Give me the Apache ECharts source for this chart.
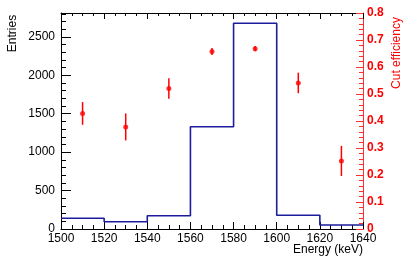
<!DOCTYPE html>
<html><head><meta charset="utf-8">
<script src="https://cdn.jsdelivr.net/npm/echarts@6/dist/echarts.min.js"></script>
<style>html,body{margin:0;padding:0;background:#fff}#c{width:407px;height:261px}</style>
</head><body><div id="c"></div>
<script>
const binEdges = [1500, 1520, 1540, 1560, 1580, 1600, 1620, 1640];
const counts = [140, 95, 173, 1330, 2677, 178, 52];
const effX = [1510, 1530, 1550, 1570, 1590, 1610, 1630];
const effVal = [0.428, 0.378, 0.52, 0.657, 0.668, 0.541, 0.252];
const effErr = [0.042, 0.05, 0.038, 0.013, 0.01, 0.038, 0.056];
const xTitle = 'Energy (keV)';
const yTitle = 'Entries';
const y2Title = 'Cut efficiency';

const FONT = 'Liberation Sans, Arial, sans-serif';
const histData = counts.map((v, i) => [binEdges[i], v]);
histData.push([binEdges[binEdges.length - 1], counts[counts.length - 1]]);
const effData = effX.map((x, i) => [x, effVal[i]]);
const errData = effX.map((x, i) => [x, effVal[i] - effErr[i], effVal[i] + effErr[i]]);

const chart = echarts.init(document.getElementById('c'), null, {renderer: 'canvas'});
const blk = {color: '#000', width: 1};
const plain = v => String(Math.round(v));
chart.setOption({
  animation: false,
  backgroundColor: '#fff',
  grid: {left: 61, right: 44, top: 13, bottom: 32, containLabel: false},
  xAxis: [
    {type: 'value', position: 'bottom', min: 1500, max: 1640, interval: 20,
     axisLine: {show: true, onZero: false, lineStyle: blk},
     axisTick: {show: true, inside: true, length: 7, lineStyle: blk},
     minorTick: {show: true, splitNumber: 4, length: 4, lineStyle: blk},
     splitLine: {show: false}, minorSplitLine: {show: false},
     axisLabel: {margin: 4, fontSize: 12, color: '#000', fontFamily: FONT, formatter: plain,
       showMinLabel: true, showMaxLabel: true}},
    {type: 'value', position: 'top', min: 1500, max: 1640, interval: 20,
     axisLine: {show: true, onZero: false, lineStyle: blk},
     axisTick: {show: true, inside: true, length: 6, lineStyle: blk},
     minorTick: {show: true, splitNumber: 4, length: 3, lineStyle: blk},
     splitLine: {show: false}, axisLabel: {show: false}}
  ],
  yAxis: [
    {type: 'value', position: 'left', min: 0, max: 2810, interval: 500,
     axisLine: {show: true, onZero: false, lineStyle: blk},
     axisTick: {show: true, inside: true, length: 10, lineStyle: blk},
     splitLine: {show: false},
     axisLabel: {margin: 6, fontSize: 12, color: '#000', fontFamily: FONT, formatter: plain, showMaxLabel: false}},
    {type: 'value', position: 'left', min: 0, max: 2810, interval: 100,
     axisLine: {show: false, onZero: false},
     axisTick: {show: true, inside: true, length: 5, lineStyle: blk},
     splitLine: {show: false}, axisLabel: {show: false}},
    {type: 'value', position: 'right', min: 0, max: 0.8, interval: 0.1,
     axisLine: {show: true, onZero: false, lineStyle: {color: '#ff3030', width: 1}},
     axisTick: {show: true, inside: true, length: 7, lineStyle: {color: '#ff3030'}},
     minorTick: {show: true, splitNumber: 5, length: 4, lineStyle: {color: '#ff3030'}},
     splitLine: {show: false}, minorSplitLine: {show: false},
     axisLabel: {margin: 4, fontSize: 12, color: '#ff0000', fontWeight: 'bold', fontFamily: FONT,
       formatter: v => (Math.round(v * 10) / 10).toString()}}
  ],
  series: [
    {type: 'line', xAxisIndex: 0, yAxisIndex: 0, data: histData, step: 'end',
     showSymbol: false, symbol: 'none', lineStyle: {color: '#1c1c9c', width: 1.6}, z: 3},
    {type: 'custom', xAxisIndex: 0, yAxisIndex: 2, data: errData, z: 4,
     renderItem: function (params, api) {
       const x = api.value(0);
       const p1 = api.coord([x, api.value(1)]);
       const p2 = api.coord([x, api.value(2)]);
       return {type: 'line', shape: {x1: p1[0], y1: p1[1], x2: p2[0], y2: p2[1]},
               style: {stroke: '#ff0000', lineWidth: 1.5}};
     }},
    {type: 'scatter', xAxisIndex: 0, yAxisIndex: 2, data: effData, symbol: 'circle', symbolSize: 5,
     itemStyle: {color: '#ff0000'}, z: 5}
  ],
  graphic: [
    {type: 'text', x: 13, y: 33.5, rotation: Math.PI / 2,
     style: {text: yTitle, font: '12px ' + FONT, fill: '#000', textAlign: 'center', textVerticalAlign: 'middle'}},
    {type: 'text', x: 397, y: 53, rotation: Math.PI / 2,
     style: {text: y2Title, font: '12px ' + FONT, fill: '#ff0000', textAlign: 'center', textVerticalAlign: 'middle'}},
    {type: 'text', x: 363, y: 250,
     style: {text: xTitle, font: '12px ' + FONT, fill: '#000', textAlign: 'right', textVerticalAlign: 'middle'}}
  ]
});
</script></body></html>
